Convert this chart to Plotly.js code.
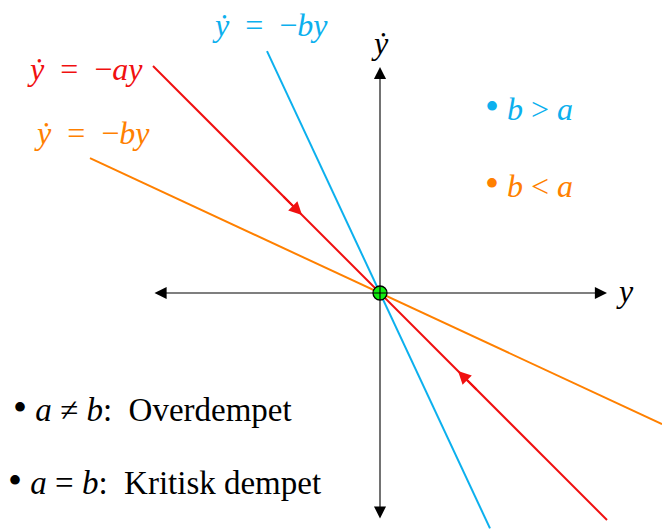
<!DOCTYPE html>
<html>
<head>
<meta charset="utf-8">
<script src="https://cdn.plot.ly/plotly-3.0.1.min.js"></script>
<style>html,body{margin:0;padding:0;background:#fff}</style>
</head>
<body>
<div id="chart" style="width:662px;height:530px"></div>
<script>
// Phase portrait of ẏ = −a·y / ẏ = −b·y around the equilibrium y = 0
const slopeA = 1.0;        // red line, ẏ = −a y
const slopeBfast = 2.14;   // cyan line, b > a
const slopeBslow = 0.465;  // orange line, b < a

// horizontal extents of each line (left end, right end)
const redX = [-2.27, 2.27];
const cyanX = [-1.13, 1.10];
const orangeX = [-2.90, 2.82];

// flow-direction arrows on the red line (x of arrow tip, x of arrow tail)
const flowTips = [-0.78, 0.78];
const flowTails = [-0.98, 0.98];

// axis extents
const axisX = [-2.27, 2.27];
const axisY = [-2.27, 2.26];

const RED = '#f01010', CYAN = '#0cb0ee', ORANGE = '#ff8000', BLACK = '#000000';
const BULLET = '<span style="font-size:40px">•</span>';

function line(xs, k, color) {
  return {
    x: xs, y: xs.map(v => -k * v), mode: 'lines', type: 'scatter',
    line: {color: color, width: 2}, hoverinfo: 'skip', showlegend: false
  };
}

const traces = [
  line(orangeX, slopeBslow, ORANGE),
  line(cyanX, slopeBfast, CYAN),
  line(redX, slopeA, RED),
  {x: [0], y: [0], mode: 'markers', type: 'scatter', showlegend: false,
   marker: {size: 14, color: '#11ee11', line: {color: '#000', width: 1.3}}}
];

const ann = [];
// axes with arrowheads at both ends
ann.push({x: axisX[1], y: 0, ax: axisX[0], ay: 0, xref: 'x', yref: 'y', axref: 'x', ayref: 'y',
  text: '', showarrow: true, arrowside: 'end+start', arrowhead: 2, arrowsize: 2.2, arrowwidth: 1.1, arrowcolor: '#000'});
ann.push({x: 0, y: axisY[1], ax: 0, ay: axisY[0], xref: 'x', yref: 'y', axref: 'x', ayref: 'y',
  text: '', showarrow: true, arrowside: 'end+start', arrowhead: 2, arrowsize: 2.2, arrowwidth: 1.1, arrowcolor: '#000'});
// flow arrows toward the origin
flowTips.forEach((tx, i) => {
  ann.push({x: tx, y: -slopeA * tx, ax: flowTails[i], ay: -slopeA * flowTails[i],
    xref: 'x', yref: 'y', axref: 'x', ayref: 'y', text: '', showarrow: true,
    arrowhead: 2, arrowsize: 1.3, arrowwidth: 2, arrowcolor: RED});
});

function label(x, y, text, color, size, xanchor) {
  ann.push({x: x, y: y, xref: 'x', yref: 'y', text: text, showarrow: false,
    xanchor: xanchor || 'left',
    font: {family: 'Liberation Serif', size: size, color: color}});
}
const eq = k => '<i>ẏ</i>  =  −<i>' + k + 'y</i>';
label(-3.55, 2.24, eq('a'), RED, 32);
label(-1.70, 2.68, eq('b'), CYAN, 32);
label(-3.48, 1.60, eq('b'), ORANGE, 32);
label(0.0, 2.50, '<i>ẏ</i>', BLACK, 32, 'center');
label(2.45, 0.02, '<i>y</i>', BLACK, 32, 'center');
label(1.03, 1.87, BULLET + ' <i>b</i> &gt; <i>a</i>', CYAN, 32);
label(1.03, 1.10, BULLET + ' <i>b</i> &lt; <i>a</i>', ORANGE, 32);
label(-3.69, -1.14, BULLET + ' <i>a</i> ≠ <i>b</i>:  Overdempet', BLACK, 33);
label(-3.74, -1.87, BULLET + ' <i>a</i> = <i>b</i>:  Kritisk dempet', BLACK, 33);

const layout = {
  width: 662, height: 530, margin: {l: 0, r: 0, t: 0, b: 0},
  xaxis: {range: [-3.80, 2.82], visible: false},
  yaxis: {range: [-2.37, 2.93], visible: false},
  annotations: ann, showlegend: false
};

Plotly.newPlot('chart', traces, layout, {staticPlot: true});
</script>
</body>
</html>
